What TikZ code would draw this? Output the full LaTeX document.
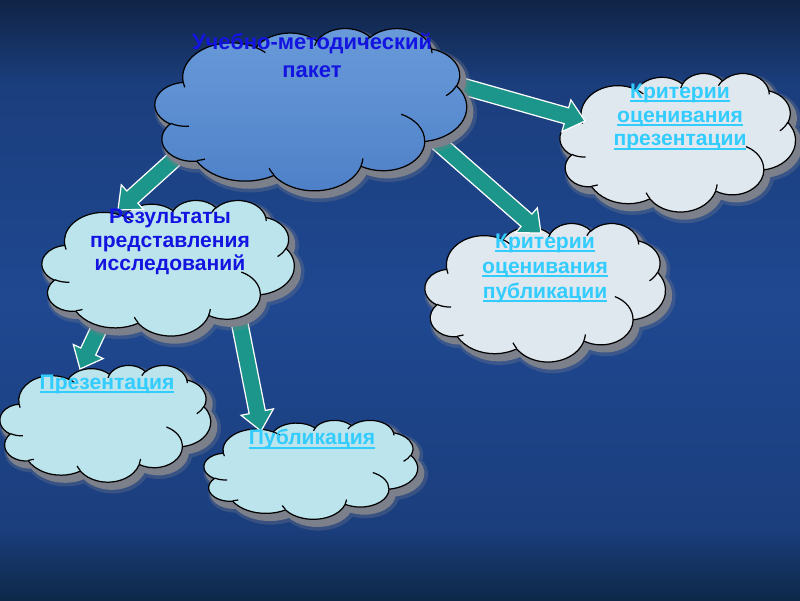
\documentclass[tikz,border=0pt]{standalone}
\usepackage{fontspec}
\setmainfont{Liberation Sans}
\usetikzlibrary{calc}
\definecolor{arrowteal}{RGB}{28,150,138}
\definecolor{bgtop}{RGB}{16,36,70}
\definecolor{bgmid}{RGB}{31,72,145}
\definecolor{bgmid2}{RGB}{27,62,125}
\definecolor{bgbot}{RGB}{13,40,72}
\definecolor{dropcyan}{RGB}{188,228,237}
\definecolor{frostwhite}{RGB}{224,232,239}
\definecolor{shadowgray}{RGB}{124,128,138}
\definecolor{titleblue}{RGB}{20,20,225}
\definecolor{linkcyan}{RGB}{51,204,255}
\definecolor{maintop}{RGB}{105,155,218}
\definecolor{mainmid}{RGB}{172,212,249}
\definecolor{mainbot}{RGB}{78,128,200}
\pgfdeclareverticalshading{bgshade}{100bp}{color(0bp)=(bgbot); color(25bp)=(bgbot); color(31bp)=(bgmid2); color(50bp)=(bgmid); color(68bp)=(bgmid2); color(75bp)=(bgtop); color(100bp)=(bgtop)}
\tikzset{
  cloudanchor/.style={rectangle, inner sep=0pt},
  shadowblur/.style={draw=shadowgray, line width=6pt, draw opacity=0.3, line join=round},
  shadowcore/.style={fill=shadowgray, draw=shadowgray, line width=3pt, line join=round},
  cloudline/.style={draw=black, line width=0.7pt},
  dropfill/.style={cloudline, fill=dropcyan},
  frostfill/.style={cloudline, fill=frostwhite},
  mainfill/.style={cloudline, top color=maintop, middle color=mainmid, bottom color=mainbot},
  titletext/.style={text=titleblue, align=center, inner sep=0pt},
  linktext/.style={text=linkcyan, align=center, inner sep=0pt},
  arrowbody/.style={fill=arrowteal, draw=white, line width=0.7pt, line join=miter}
}
% one arc of the cloud outline: x radius, y radius, start angle, sweep (angles as on the ellipse)
\newcommand\carc[4]{arc[start angle={atan2(#1*sin(#3),#2*cos(#3))}, delta angle={mod(atan2(#1*sin(#3+#4),#2*cos(#3+#4))-atan2(#1*sin(#3),#2*cos(#3))+720,360)}, x radius={#1/432}, y radius={#2/432}]}
\newcommand\cloudpath{(9.028,33.264) \carc{6753}{9190}{-190.4875}{123.7805}
  \carc{5333}{7267}{-144.1024}{89.9452} \carc{4365}{5945}{-145.8079}{99.7230}
  \carc{4857}{6595}{-130.9861}{117.2417} \carc{5333}{7273}{-78.7089}{109.0269}
  \carc{6775}{9220}{-46.2673}{130.2690} \carc{5785}{7867}{0.6250}{114.0333}
  \carc{6752}{9215}{22.4516}{115.1726} \carc{7720}{10543}{66.2426}{75.7110}
  \carc{4360}{5918}{-274.9421}{146.7356} \carc{4345}{5945}{-246.8285}{152.5189} -- cycle}
\newcommand\cloudinner{(10.863,60.595) \carc{4345}{5945}{86.742}{26.4295}
  (16.037,80.785) \carc{4360}{5918}{73.6105}{11.4475}
  (38.144,90.486) \carc{6752}{9215}{137.6242}{14.0811}
  (66.729,80.442) \carc{6752}{9215}{6.4533}{15.9984}
  (79.002,53.134) \carc{5785}{7867}{-70.2924}{70.9174}
  (96.755,35.542) \carc{5333}{7273}{30.318}{27.7515}
  (88.713,12.560) \carc{4857}{6595}{-13.7443}{14.8589}
  (67.310,9.148) \carc{4857}{6595}{-149.1815}{18.1954}
  (51.252,10.926) \carc{4365}{5945}{-163.4943}{17.6864}
  (32.407,12.019) \carc{6753}{9190}{-66.707}{12.3194}
  (9.553,36.549) \carc{6753}{9190}{157.6544}{11.8582}}
% named cloud: name, left, top, width, height (pixels), fill style
\newcommand\mycloud[6]{%
  \node[cloudanchor, minimum width=#4*0.02cm, minimum height=#5*0.02cm] (#1) at ({#2+#4/2},{#3+#5/2}) {};
  \begin{scope}[shift={(#2+5,#3+6)}, x={(#4*0.0002cm,0cm)}, y={(0cm,-#5*0.0002cm)}]
    \path[shadowblur] \cloudpath;
  \end{scope}
  \begin{scope}[shift={(#2+4,#3+5)}, x={(#4*0.0002cm,0cm)}, y={(0cm,-#5*0.0002cm)}]
    \path[shadowcore] \cloudpath;
  \end{scope}
  \begin{scope}[shift={(#2,#3)}, x={(#4*0.0002cm,0cm)}, y={(0cm,-#5*0.0002cm)}]
    \path[#6] \cloudpath;
    \path[cloudline] \cloudinner;
  \end{scope}
}
\newcommand\blockarrow[2]{%
  \coordinate (tmpH) at ($(#2)!11pt!(#1)$);
  \path[arrowbody]
    ($(#1)!4.7pt!90:(#2)$) -- ($(tmpH)!4.7pt!90:(#2)$) -- ($(tmpH)!9.4pt!90:(#2)$) --
    (#2) -- ($(tmpH)!9.4pt!-90:(#2)$) -- ($(tmpH)!4.7pt!-90:(#2)$) --
    ($(#1)!4.7pt!-90:(#2)$) -- cycle;
}
\newcommand\linkul[1]{\setbox0\hbox{#1}\rlap{\rule[-2.3pt]{\wd0}{1pt}}\box0}
\begin{document}
\begin{tikzpicture}[x=0.02cm,y=-0.02cm]
\useasboundingbox (0,0) rectangle (800,600);
\shade[shading=bgshade] (0,0) rectangle (800,600);

% arrow end points
\coordinate (a1s) at (440,80);  \coordinate (a1e) at (585,121);
\coordinate (a2s) at (435,140); \coordinate (a2e) at (541,233);
\coordinate (a3s) at (190,145); \coordinate (a3e) at (118,210);
\coordinate (a4s) at (104,318); \coordinate (a4e) at (80,369);
\coordinate (a5s) at (238,315); \coordinate (a5e) at (261,431);

% bottom-level clouds
\mycloud{pres}{0}{365}{213}{118}{dropfill}
\mycloud{publ}{204}{420}{216}{100}{dropfill}
\mycloud{kpres}{560}{73}{238}{140}{frostfill}
\mycloud{kpubl}{425}{223}{243}{140}{frostfill}

% arrows from the results cloud
\blockarrow{a4s}{a4e}
\blockarrow{a5s}{a5e}

% results cloud
\mycloud{res}{42}{200}{255}{137}{dropfill}

% arrows from the main cloud
\blockarrow{a3s}{a3e}
\blockarrow{a1s}{a1e}
\blockarrow{a2s}{a2e}

% main cloud
\mycloud{main}{155}{28}{315}{164}{mainfill}

% texts
\node[titletext, font=\fontsize{12.5}{16}\selectfont\bfseries] (tmain) at (312,55) {Учебно-методический\\пакет};
\node[titletext, font=\fontsize{12}{13.3}\selectfont\bfseries] (tres) at (170,242) {Результаты\\представления\\исследований};
\node[linktext, font=\fontsize{12}{12}\selectfont\bfseries] (tpres) at (107,384) {\linkul{Презентация}};
\node[linktext, font=\fontsize{12}{12}\selectfont\bfseries] (tpubl) at (312,439) {\linkul{Публикация}};
\node[linktext, font=\fontsize{12}{13.6}\selectfont\bfseries] (tkpres) at (680,117) {\linkul{Критерии}\\\linkul{оценивания}\\\linkul{презентации}};
\node[linktext, font=\fontsize{12}{14.2}\selectfont\bfseries] (tkpubl) at (545,268) {\linkul{Критерии}\\\linkul{оценивания}\\\linkul{публикации}};
\end{tikzpicture}
\end{document}
